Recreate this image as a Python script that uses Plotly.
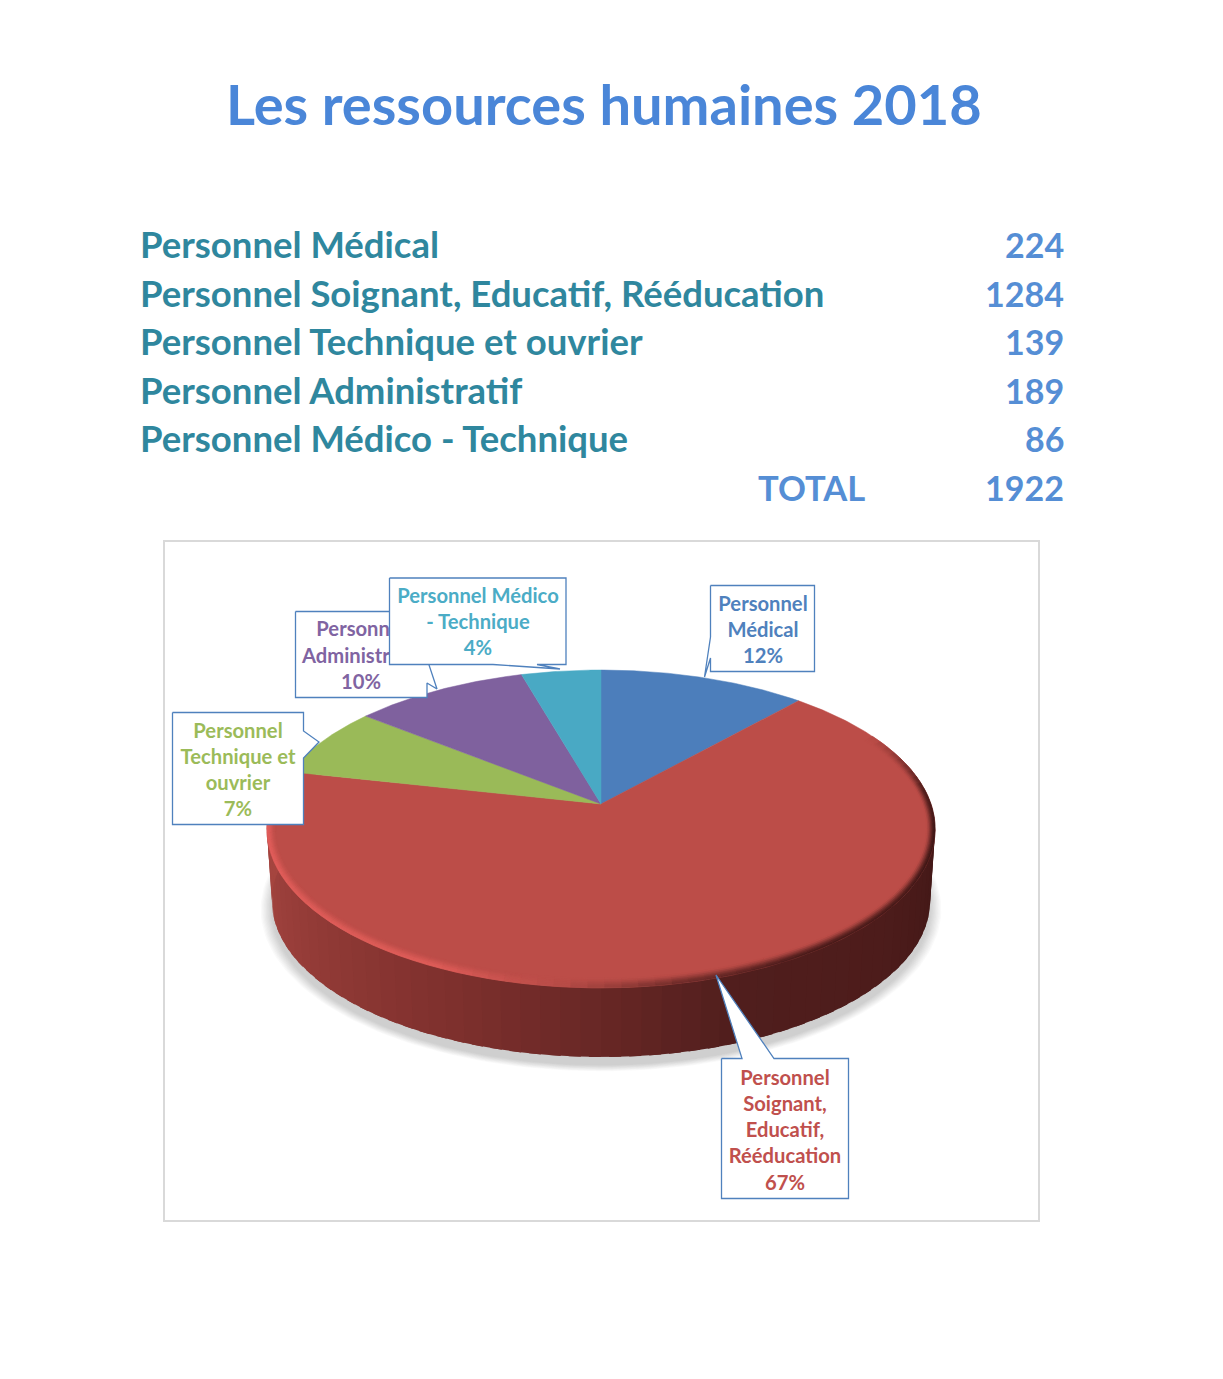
import numpy as np
import plotly.graph_objects as go

TITLE = "Les ressources humaines 2018"
categories = ["Personnel Médical", "Personnel Soignant, Educatif, Rééducation",
              "Personnel Technique et ouvrier", "Personnel Administratif",
              "Personnel Médico - Technique"]
values = [224, 1284, 139, 189, 86]
total_label = "TOTAL"
total_value = 1922
callout_names = ["Personnel<br>Médical", "Personnel<br>Soignant,<br>Educatif,<br>Rééducation",
                 "Personnel<br>Technique et<br>ouvrier", "Personnel<br>Administratif",
                 "Personnel Médico<br>- Technique"]
slice_colors = ["#4C7EBB", "#BC4D48", "#9ABA58", "#7F619E", "#49A9C4"]
label_colors = ["#4F81BD", "#C0504D", "#9BBB59", "#8064A2", "#4BACC6"]

# page geometry (pixels)
W, H = 1223, 1379
CX, CY, RX, RY, K = 601.0, 804.0, 330.0, 155.0, 0.157
DEPTH, BOTTOM_SCALE = 72.0, 0.985
FONT = "Lato"


def project(theta_deg, r=1.0, bottom=False):
    t = np.radians(theta_deg)
    u, v = r * np.sin(t), r * np.cos(t)
    s = 1.0 / (1.0 + K * v)
    f = BOTTOM_SCALE if bottom else 1.0
    return CX + RX * f * u * s, CY + (DEPTH if bottom else 0.0) - RY * f * v * s


def hex_rgb(c):
    return np.array([int(c[i:i + 2], 16) for i in (1, 3, 5)], float)


def ramp(x, stops):
    xs = [s[0] for s in stops]
    cols = np.array([hex_rgb(s[1]) for s in stops])
    return np.array([np.interp(x, xs, cols[:, i]) for i in range(3)])


def css(rgb):
    return "rgb(%d,%d,%d)" % tuple(int(round(a)) for a in rgb)


fig = go.Figure()


def poly(xs, ys, color, width=1.0, line=None, name=None):
    fig.add_trace(go.Scatter(x=list(xs), y=list(ys), mode="lines", fill="toself",
                             fillcolor=color, line=dict(color=line or color, width=width),
                             hoverinfo="skip", showlegend=False, name=name))


# soft shadow under the disc
th = np.linspace(0, 360, 241)
for i, grow in enumerate(np.linspace(1.034, 1.0, 10)):
    x, y = project(th, 1.0, True)
    poly(CX + (x - CX) * grow, (CY + DEPTH + 8) + (y - CY - DEPTH) * grow, "rgba(90,90,90,0.028)", 0)

# side wall of the red slice: each strip runs on under the next one, so no seams show
side_stops = [(80, "#3C1514"), (130, "#4D1C1B"), (160, "#501E1D"), (180, "#682725"),
              (205, "#80312E"), (235, "#953C38"), (260, "#A3443F"), (285, "#AA4740")]
step = 3.0
for a in np.arange(72, 291, step):
    t = np.linspace(a, a + step * 1.6, 4)
    xt, yt = project(t)
    xb, yb = project(t, 1.0, True)
    poly(np.r_[xt, xb[::-1]], np.r_[yt, yb[::-1]], css(ramp(a + step / 2, side_stops)), 0)

# top faces, drawn from the values
fractions = np.array(values, float) / sum(values)
edges = np.concatenate([[0], np.cumsum(fractions)]) * 360
for cat, col, a, b in zip(categories, slice_colors, edges[:-1], edges[1:]):
    t = np.linspace(a, b, max(8, int((b - a) * 2)))
    x, y = project(t)
    poly(np.r_[CX, x, CX], np.r_[CY, y, CY], col, 0.5, name=cat)

# bevelled rim on the front of the red slice
rim_stops = [(62, "#BC4D48"), (85, "#4A1B1A"), (100, "#3A1514"), (150, "#4A1B1A"), (168, "#6E2B29"),
             (186, "#B84C47"), (205, "#DE5C58"), (270, "#E25E5B"), (283, "#D45450")]
top = hex_rgb(slice_colors[1])
layers = np.linspace(1.0, 0.0, 7)
RIM_X, RIM_Y = 9.0, 10.0
astep = 2.5


def rim_point(theta, frac):
    x, y = project(theta)
    t = np.radians(theta)
    return x - RIM_X * frac * np.sin(t), y + RIM_Y * frac * np.cos(t)


for f1, f2 in zip(layers[:-1], layers[1:]):
    w = 1 - (f1 + f2) / 2
    w = w * w * (3 - 2 * w)
    for a in np.arange(62, 283, astep):
        b = min(a + astep, 283)
        target = ramp(a + astep / 2, rim_stops)
        x1, y1 = rim_point(np.array([a, b]), f1)
        x2, y2 = rim_point(np.array([b, a]), f2)
        poly(np.r_[x1, x2], np.r_[y1, y2], css(top + (target - top) * w), 0.6)

# chart frame
fig.add_shape(type="rect", x0=164, x1=1039, y0=541, y1=1221,
              line=dict(color="#D9D9D9", width=2), fillcolor="rgba(0,0,0,0)", layer="below")

# callouts: drawn in stacking order so later boxes cover earlier text
callouts = {
    0: dict(px=[710.5, 814.5, 814.5, 710.5, 710.5, 704.5, 710.5, 710.5], py=[585.5, 585.5, 671.5, 671.5, 658, 677, 637, 585.5], tx=763, ty=632),
    1: dict(px=[721.5, 742, 716, 774, 848.5, 848.5, 721.5, 721.5], py=[1058.5, 1058.5, 975, 1058.5, 1058.5, 1198.5, 1198.5, 1058.5], tx=785, ty=1132),
    2: dict(px=[172.5, 303.5, 303.5, 319, 303.5, 303.5, 172.5, 172.5], py=[712.5, 712.5, 731, 742, 758, 824.5, 824.5, 712.5], tx=238, ty=772),
    3: dict(px=[295.5, 427, 429, 437, 427, 427, 295.5, 295.5], py=[611.5, 611.5, 665, 689, 683, 697.5, 697.5, 611.5], tx=361, ty=657.5),
    4: dict(px=[389.5, 566, 566, 537, 560, 493, 389.5, 389.5], py=[578, 578, 664.5, 664.5, 669, 664.5, 664.5, 578], tx=478, ty=624),
}
for idx in [0, 1, 2, 3, 4]:
    c = callouts[idx]
    poly(c["px"], c["py"], "#FFFFFF", 1.3, line="#4F81BD")
    pct = "%d%%" % round(values[idx] / sum(values) * 100)
    fig.add_trace(go.Scatter(x=[c["tx"]], y=[c["ty"]], mode="text", text=[callout_names[idx] + "<br>" + pct],
                             textposition="middle center",
                             textfont=dict(family=FONT, size=20.2, color=label_colors[idx], weight="bold"),
                             hoverinfo="skip", showlegend=False))


def note(x, y, text, size, color, anchor):
    fig.add_annotation(x=x, y=y, xref="x", yref="y", text=text, showarrow=False, xanchor=anchor,
                       yanchor="middle", font=dict(family=FONT, size=size, color=color, weight="bold"))


note(603.5, 103, TITLE, 56, "#4A86D8", "center")
row_y = [244, 293, 341, 390, 438]
for y, cat, v in zip(row_y, categories, values):
    note(138, y, cat, 36.5, "#2F879E", "left")
    note(1066, y, str(v), 34, "#558ED5", "right")
note(756, 487, total_label, 34.6, "#558ED5", "left")
note(1066, 487, str(total_value), 34, "#558ED5", "right")

fig.update_layout(width=W, height=H, margin=dict(l=0, r=0, t=0, b=0), paper_bgcolor="white",
                  plot_bgcolor="white", showlegend=False,
                  xaxis=dict(range=[0, W], visible=False, fixedrange=True),
                  yaxis=dict(range=[H, 0], visible=False, fixedrange=True))
fig.write_html("out.html", config={"displayModeBar": False},
               post_script="document.body.style.margin='0';document.documentElement.style.overflow='hidden';"
                           "var s=document.createElement('style');s.textContent='text{font-variant-ligatures:none}';"
                           "document.head.appendChild(s);")
